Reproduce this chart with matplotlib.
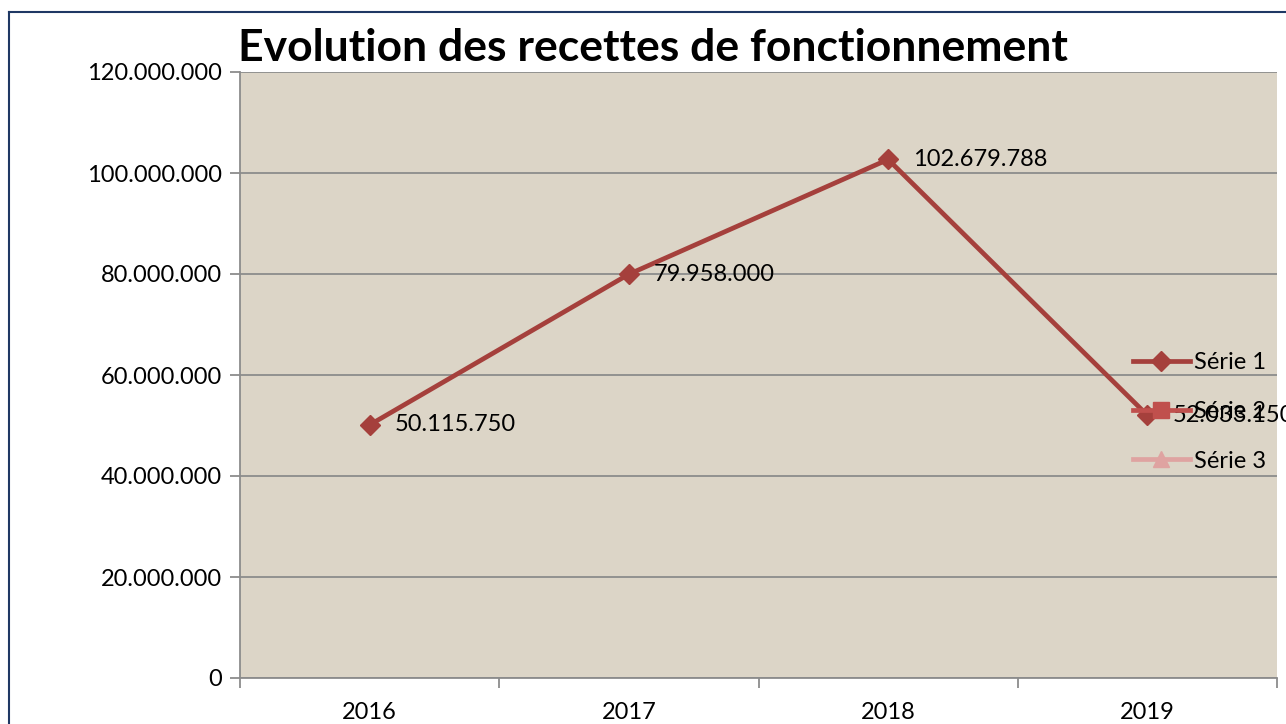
import matplotlib
matplotlib.use("Agg")
import matplotlib.pyplot as plt
from matplotlib.lines import Line2D

# Data
years = ["2016", "2017", "2018", "2019"]
serie1 = [50115750, 79958000, 102679788, 52033150]
labels = ["50.115.750", "79.958.000", "102.679.788", "52.033.150"]
yticks = [0, 20000000, 40000000, 60000000, 80000000, 100000000, 120000000]
ytick_labels = ["0", "20.000.000", "40.000.000", "60.000.000", "80.000.000",
                "100.000.000", "120.000.000"]

plt.rcParams['font.family'] = ['Lato', 'DejaVu Sans']

fig = plt.figure(figsize=(12.86, 7.24), dpi=100)
ax = fig.add_axes([240/1286, 1 - 678/724, 1037/1286, 606/724])
ax.set_facecolor('#DCD5C7')

# frame around the chart
fig.add_artist(Line2D([9/1286, 9/1286], [0, 1 - 12/724], color='#1F3864', lw=1.5))
fig.add_artist(Line2D([9/1286, 1], [1 - 12/724, 1 - 12/724], color='#1F3864', lw=1.5))

x = list(range(len(years)))
ax.plot(x, serie1, color='#A5403C', lw=3.4, marker='D', markersize=10,
        label='Série 1', zorder=3)
ax.plot([], [], color='#C0504D', lw=3.4, marker='s', markersize=11, label='Série 2')
ax.plot([], [], color='#DFA3A1', lw=3.4, marker='^', markersize=11, label='Série 3')

for xi, yi, lab in zip(x, serie1, labels):
    ax.annotate(lab, (xi, yi), xytext=(18, 0), textcoords='offset points',
                va='center', ha='left', fontsize=17, annotation_clip=False,
                clip_on=False)

ax.set_xlim(-0.5, 3.5)
ax.set_ylim(0, 120000000)
ax.set_yticks(yticks)
ax.set_yticklabels(ytick_labels)
ax.grid(axis='y', color='#8C8C8C', lw=1.3)
ax.set_axisbelow(True)

ax.set_xticks([-0.5, 0.5, 1.5, 2.5, 3.5])
ax.set_xticklabels([])
ax.set_xticks(x, minor=True)
ax.set_xticklabels(years, minor=True)
ax.tick_params(axis='x', which='major', length=7, color='#8C8C8C', width=1.3)
ax.tick_params(axis='x', which='minor', length=0, pad=17, labelsize=17)
ax.tick_params(axis='y', length=7, color='#8C8C8C', width=1.3, labelsize=17, pad=6)

for s in ['top', 'right']:
    ax.spines[s].set_visible(False)
for s in ['left', 'bottom']:
    ax.spines[s].set_color('#8C8C8C')
    ax.spines[s].set_linewidth(1.3)

fig.text(238/1286, 1 - 48/724, 'Evolution des recettes de fonctionnement',
         fontsize=32, fontweight='bold', va='center', ha='left')

ax.legend(loc='upper left', bbox_to_anchor=(1133/1286, 1 - 352/724),
          bbox_transform=fig.transFigure, frameon=False, fontsize=17,
          handlelength=2.4, handletextpad=0.2, labelspacing=1.2,
          borderpad=0, borderaxespad=0)

fig.savefig('out.png', dpi=100)
